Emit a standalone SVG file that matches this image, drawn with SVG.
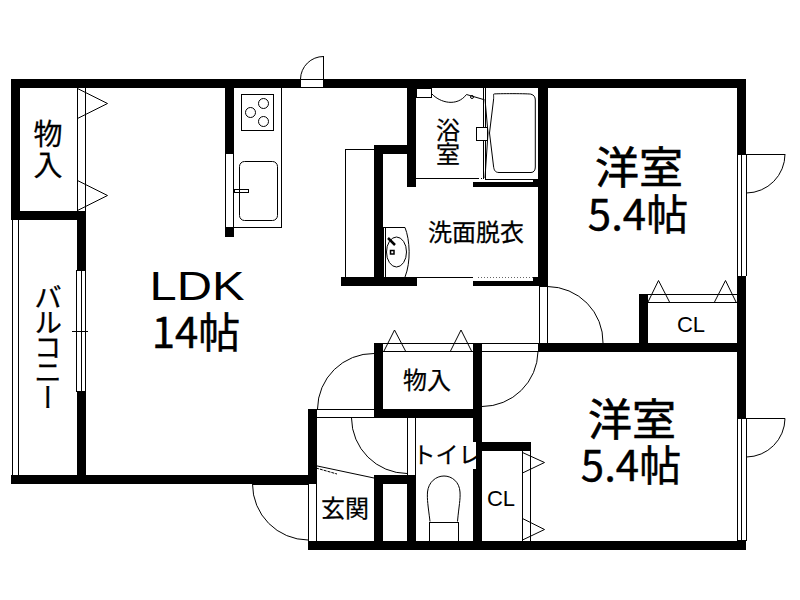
<svg xmlns="http://www.w3.org/2000/svg" width="800" height="600" viewBox="0 0 800 600">
<style>
.w{fill:#000;shape-rendering:crispEdges}
.l{fill:none;stroke:#000;stroke-width:1}
.c{shape-rendering:crispEdges}
text{fill:#000;font-family:"Noto Sans CJK JP","Liberation Sans",sans-serif;text-anchor:middle}
.a{font-family:"Liberation Sans",Arial,"Noto Sans CJK JP",sans-serif}
.m{font-size:24px;stroke:#000;stroke-width:.25}
.b{font-size:44px;stroke:#000;stroke-width:.6}
.b2{font-size:42px;stroke:#000;stroke-width:.4}
.s{font-size:22px}
.v{writing-mode:vertical-rl;text-anchor:start}
</style>
<rect width="800" height="600" fill="#fff"/>
<g id="walls" class="w">
<rect x="11" y="79" width="289" height="9"/>
<rect x="324" y="79" width="422" height="9"/>
<rect x="11" y="79" width="9" height="141"/>
<rect x="11" y="211" width="75" height="9"/>
<rect x="77" y="211" width="9" height="59"/>
<rect x="77" y="392" width="9" height="92"/>
<rect x="11" y="475" width="304" height="9"/>
<rect x="225" y="88" width="9" height="65"/>
<rect x="225" y="228" width="9" height="9"/>
<rect x="407" y="88" width="9" height="99"/>
<rect x="374" y="145" width="33" height="9"/>
<rect x="374" y="145" width="9" height="141"/>
<rect x="341" y="277" width="76" height="9"/>
<rect x="473" y="182" width="65" height="5"/>
<rect x="533" y="179" width="15" height="8"/>
<rect x="473" y="281" width="65" height="5"/>
<rect x="533" y="277" width="15" height="9"/>
<rect x="538" y="88" width="10" height="198"/>
<rect x="737" y="88" width="9" height="66"/>
<rect x="737" y="276" width="9" height="142"/>
<rect x="737" y="540" width="9" height="10"/>
<rect x="639" y="294" width="9" height="58"/>
<rect x="538" y="343" width="208" height="9"/>
<rect x="374" y="343" width="9" height="75"/>
<rect x="374" y="409" width="108" height="9"/>
<rect x="473" y="343" width="9" height="99"/>
<rect x="476" y="442" width="6" height="27"/>
<rect x="473" y="469" width="9" height="72"/>
<rect x="476" y="442" width="55" height="9"/>
<rect x="308" y="409" width="9" height="75"/>
<rect x="374" y="475" width="42" height="9"/>
<rect x="374" y="475" width="9" height="66"/>
<rect x="407" y="475" width="9" height="66"/>
<rect x="308" y="541" width="438" height="9"/>
<rect x="308" y="484" width="1" height="57"/>
</g>
<g id="fixtures" class="l">
<path class="c" d="M12.500 220V475M18.500 220V475"/>
<path class="c" d="M77.500 88V211M85.500 88V211"/>
<path d="M77.500 88.500L107.500 103.500L77.500 118.500M77.500 180.500L107.500 195.500L77.500 210.500"/>
<path class="c" d="M76.500 270V392M85.500 270V392M81.500 270V392M76.500 270.500H86M76.500 391.500H86M72 331.500H88"/>
<path class="c" d="M225.500 153V228M233.500 153V228M225.500 153.500H234M225.500 227.500H281.500M281.500 88V228"/>
<rect class="c" x="241.500" y="94.500" width="32" height="36"/>
<circle cx="263.500" cy="103.500" r="5"/><circle cx="250.500" cy="112.500" r="5"/><circle cx="263.500" cy="121.500" r="5"/>
<rect x="239.500" y="161.500" width="38" height="59" rx="5"/>
<rect class="c" x="234" y="189.500" width="14.500" height="3"/>
<path class="c" d="M300.500 79V88M323.500 56V88M300.500 79.500H324M300.500 87.500H324"/>
<path d="M323.500 56.500A23 23 0 0 0 300.500 79"/>
<path class="c" d="M345.500 277V149.500H374M416 178.500H478M483.500 88V179M485.500 88V179M485 179.500H533"/>
<path stroke-dasharray="1 2" d="M478 178.500H484"/>
<rect class="c" x="416.500" y="88" width="15" height="9.500"/>
<path d="M431.500 93.500C440 103 457 107 466.500 94.500L483.500 99.500M431.500 97.500H416.500"/>
<circle cx="472" cy="97" r="1.500"/>
<path d="M494 94C496 93.500 530 93.500 531 94.200C534 95 535.300 97 535.300 100V167C535.300 170 534 172.500 531 172.500H499C495 172.500 494 170 493.500 166L489.500 133L493.500 100C494 96 493 94 494 94Z"/>
<path d="M485 99L488 133L485 178"/>
<rect class="c" x="476.500" y="127.500" width="11" height="13" fill="#fff"/>
<path class="c" d="M383.500 227V277M385.500 227V277M384 227.500H405"/>
<path d="M405 227.500C410 240 411 262 405 277"/>
<ellipse cx="396.500" cy="252" rx="10" ry="15"/>
<path stroke-width="2.500" d="M388 238L395 245"/>
<rect x="390.500" y="250.500" width="3.500" height="3.500" stroke-width="1.500"/>
<path class="c" d="M386 277.500H473"/>
<path stroke-dasharray="1 2" stroke-opacity=".6" d="M478 277.500H533"/>
<path class="c" d="M737.500 154V276M741.500 154V276M746.500 154V276M737 154.500H785"/>
<path d="M785 154A39 39 0 0 1 746.500 193"/>
<path class="c" d="M647 294.500H737M647 302.500H737"/>
<path d="M648 302L658.500 280.500L669.500 302M714.500 302L725.500 280.500L736 302"/>
<path class="c" d="M539.500 286V343M547.500 286V343M540 286.500H548"/>
<path d="M547.500 286.500A56 56 0 0 1 603 343"/>
<path class="c" d="M737.500 418V541M741.500 418V541M746.500 418V541M737 418.500H785"/>
<path d="M785 418.500A39 39 0 0 1 746.500 457"/>
<path class="c" d="M383 343.500H473M383 351.500H473"/>
<path d="M384 351L394.500 330L405.500 351M450.500 351L461 330L471.500 351"/>
<path class="c" d="M482 343.500H538M482 351.500H538"/>
<path d="M538 351.500A56 56 0 0 1 482 406.500"/>
<path d="M374 353.500A56 56 0 0 0 317.500 409"/>
<path class="c" d="M317 409.500H374M317 417.500H407M407.500 418V475M415.500 418V475"/>
<path d="M351.500 418A56 56 0 0 0 407 473.500"/>
<path d="M315 465.500L374 478"/>
<path stroke-dasharray="3 1" d="M316 468L337 474"/>
<path class="c" d="M308.500 484V541M316.500 484V541M252.500 484.500H308"/>
<path d="M252.500 484A56 56 0 0 0 308 540"/>
<path d="M430 521.500C428 505 427 500 427.500 492C428.500 482 436 476 444 476C452 476 459.500 482 460 492C460.500 500 459 505 457.500 521.500"/>
<path class="c" d="M429.500 541V522H458.500V541"/>
<path class="c" d="M522.500 451V541M530.500 451V541"/>
<path d="M522.500 452.500L544.500 462.500L522.500 473M522.500 518.500L544.500 529.500L522.500 540"/>
</g>
<g id="labels">
<g id="label-storage-1"><text class="v" x="48" y="119" style="font-size:29px;letter-spacing:2px;stroke:#000;stroke-width:.25">物入</text></g>
<g id="label-balcony"><text class="v" x="48" y="283" style="font-size:28px;letter-spacing:-3px;stroke:#000;stroke-width:.25">バルコニー</text></g>
<g id="label-ldk"><text class="a" x="197" y="300" textLength="95" lengthAdjust="spacingAndGlyphs" style="font-size:41px">LDK</text><text class="b2" x="196" y="348">14帖</text></g>
<g id="label-bath"><text class="m v" x="448" y="118">浴室</text></g>
<g id="label-wash"><text class="m" x="476" y="241">洗面脱衣</text></g>
<g id="label-room-1"><text class="b" x="639" y="184">洋室</text><text class="b2" x="638" y="230">5.4帖</text></g>
<g id="label-room-2"><text class="b" x="632" y="436">洋室</text><text class="b2" x="631" y="481">5.4帖</text></g>
<g id="label-cl-1"><text class="a s" x="691" y="332">CL</text></g>
<g id="label-cl-2"><text class="a s" x="501" y="506">CL</text></g>
<g id="label-storage-2"><text class="m" x="427" y="389">物入</text></g>
<g id="label-toilet"><text class="m" x="447" y="463" style="font-size:23px">トイレ</text></g>
<g id="label-entry"><text class="m" x="345" y="517">玄関</text></g>
</g>
</svg>
